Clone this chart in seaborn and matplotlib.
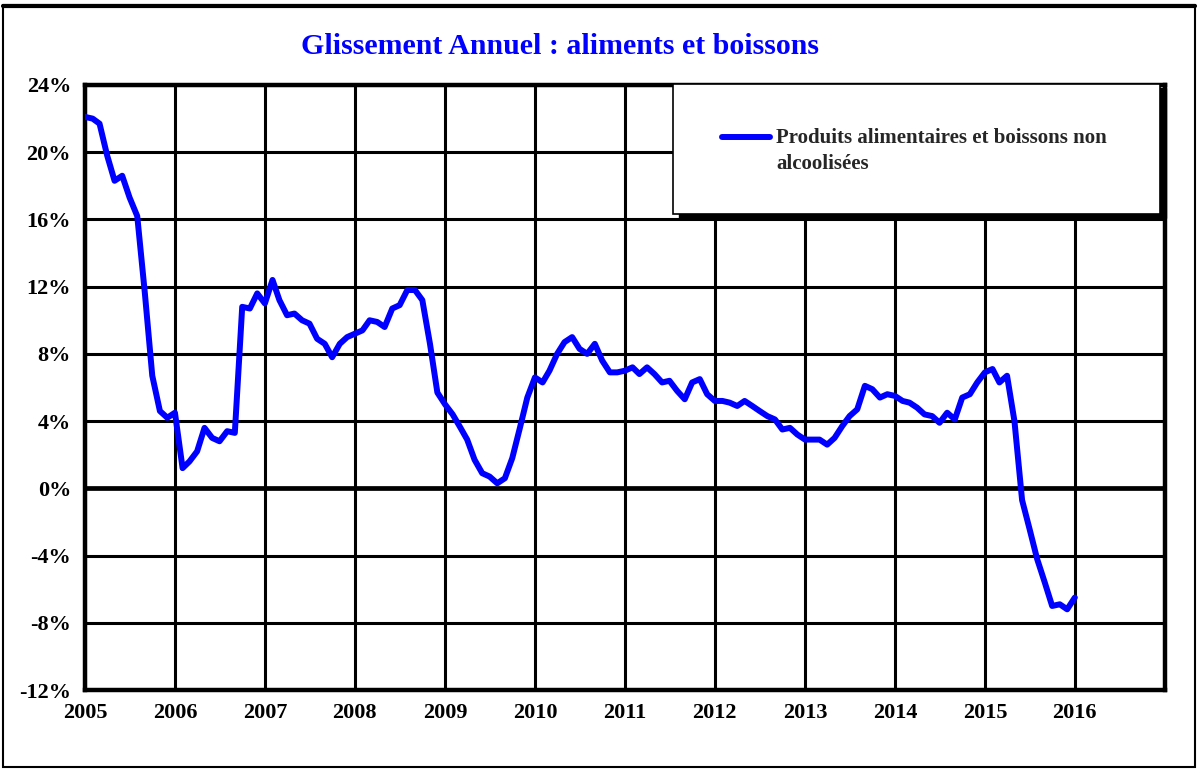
import matplotlib
matplotlib.use("Agg")
import matplotlib.pyplot as plt
import seaborn as sns
import pandas as pd
from matplotlib.patches import Rectangle
from matplotlib.lines import Line2D

# --- Data: annual change (%) of food and non-alcoholic beverages, monthly ---
vals_2005 = [22.1, 22.0, 21.7, 19.8, 18.3, 18.6, 17.3, 16.2, 11.6, 6.7, 4.6, 4.2]
vals_2006 = [4.5, 1.2, 1.6, 2.2, 3.6, 3.0, 2.8, 3.4, 3.3, 10.8, 10.7, 11.6]
vals_2007 = [11.0, 12.4, 11.2, 10.3, 10.4, 10.0, 9.8, 8.9, 8.6, 7.8, 8.6, 9.0]
vals_2008 = [9.2, 9.4, 10.0, 9.9, 9.6, 10.7, 10.9, 11.8, 11.8, 11.2, 8.6, 5.7]
vals_2009 = [5.0, 4.4, 3.7, 2.9, 1.7, 0.9, 0.7, 0.3, 0.6, 1.8, 3.6, 5.4]
vals_2010 = [6.6, 6.3, 7.0, 8.0, 8.7, 9.0, 8.3, 8.0, 8.6, 7.6, 6.9, 6.9]
vals_2011 = [7.0, 7.2, 6.8, 7.2, 6.8, 6.3, 6.4, 5.8, 5.3, 6.3, 6.5, 5.6]
vals_2012 = [5.2, 5.2, 5.1, 4.9, 5.2, 4.9, 4.6, 4.3, 4.1, 3.5, 3.6, 3.2]
vals_2013 = [2.9, 2.9, 2.9, 2.6, 3.0, 3.7, 4.3, 4.7, 6.1, 5.9, 5.4, 5.6]
vals_2014 = [5.5, 5.2, 5.1, 4.8, 4.4, 4.3, 3.9, 4.5, 4.1, 5.4, 5.6, 6.3]
vals_2015 = [6.9, 7.1, 6.3, 6.7, 4.0, -0.7, -2.4, -4.2, -5.6, -7.0, -6.9, -7.2]
vals_2016 = [-6.5]

year_labels = [str(y) for y in range(2005, 2017)]
y_ticks = [-12, -8, -4, 0, 4, 8, 12, 16, 20, 24]
y_tick_labels = [f"{v}%" for v in y_ticks]

series_name = "Produits alimentaires et boissons non\nalcoolisées"
title = "Glissement Annuel : aliments et boissons"

values = (vals_2005 + vals_2006 + vals_2007 + vals_2008 + vals_2009 + vals_2010
          + vals_2011 + vals_2012 + vals_2013 + vals_2014 + vals_2015 + vals_2016)
df = pd.DataFrame({
    "date": pd.date_range("2005-01-01", periods=len(values), freq="MS"),
    "value": values,
})

# --- Style ---
sns.set_style("white")
plt.rcParams["font.family"] = ["Liberation Serif", "DejaVu Serif"]

fig = plt.figure(figsize=(12, 7.69), dpi=100)
ax = fig.add_axes([85 / 1200, 1 - 690 / 769, 1080 / 1200, 605 / 769])

sns.lineplot(data=df, x="date", y="value", ax=ax, color="#0000FF",
             linewidth=4.3, label=series_name, zorder=5,
             solid_capstyle="round", solid_joinstyle="round")

# axes limits and ticks
ax.set_xlim(pd.Timestamp("2005-01-01"), pd.Timestamp("2017-01-01"))
ax.set_ylim(-12, 24)
year_ticks = [pd.Timestamp(f"{y}-01-01") for y in year_labels]
ax.set_xticks(year_ticks)
ax.set_xticklabels(year_labels)
ax.set_yticks(y_ticks)
ax.set_yticklabels(y_tick_labels)
ax.tick_params(axis="both", length=0, labelsize=16, colors="black")
ax.tick_params(axis="x", pad=9.5)
ax.tick_params(axis="y", pad=10)
for lbl in ax.get_xticklabels() + ax.get_yticklabels():
    lbl.set_fontweight("bold")
ax.set_xlabel("")
ax.set_ylabel("")

# grid
ax.grid(True, color="black", linewidth=2.2, zorder=1)
ax.set_axisbelow(True)
ax.axhline(0, color="black", linewidth=3.4, zorder=2)
for sp in ax.spines.values():
    sp.set_visible(True)
    sp.set_color("black")
    sp.set_linewidth(3.2)

# legend box with solid shadow
bx0, by0 = (673 - 85) / 1080, (690 - 214) / 605
bw, bh = (1160 - 673) / 1080, (214 - 84) / 605
dx, dy = 6 / 1080, 4 / 605
ax.add_patch(Rectangle((bx0 + dx, by0 - dy), bw, bh, transform=ax.transAxes,
                       facecolor="black", edgecolor="black", zorder=6, clip_on=False))
ax.add_patch(Rectangle((bx0, by0), bw, bh, transform=ax.transAxes,
                       facecolor="white", edgecolor="black", linewidth=1.2,
                       zorder=7, clip_on=False))
leg = ax.legend(loc="center left", bbox_to_anchor=((722 - 85) / 1080, (690 - 151) / 605),
                frameon=False, fontsize=15, handlelength=2.3, handletextpad=0.3,
                borderpad=0, borderaxespad=0)
leg.set_zorder(8)
for t in leg.get_texts():
    t.set_fontweight("bold")
    t.set_linespacing(1.42)
# put the legend line level with the first text line
for h in leg.get_lines():
    h.set_linewidth(4.3)
    h.set_ydata([y + 10.4 for y in h.get_ydata()])

# title and outer border
fig.text(560 / 1200, 1 - 47 / 769, title, ha="center", va="center",
         color="#0000FF", fontsize=21.5, fontweight="bold")
fig.patches.append(Rectangle((3 / 1200, 2 / 769), 1192 / 1200, 762 / 769,
                             transform=fig.transFigure, fill=False,
                             edgecolor="black", linewidth=1.5))
fig.lines.append(Line2D([3 / 1200, 1195 / 1200], [1 - 6 / 769, 1 - 6 / 769],
                        transform=fig.transFigure, color="black", linewidth=3))

fig.savefig("out.png", dpi=100)
